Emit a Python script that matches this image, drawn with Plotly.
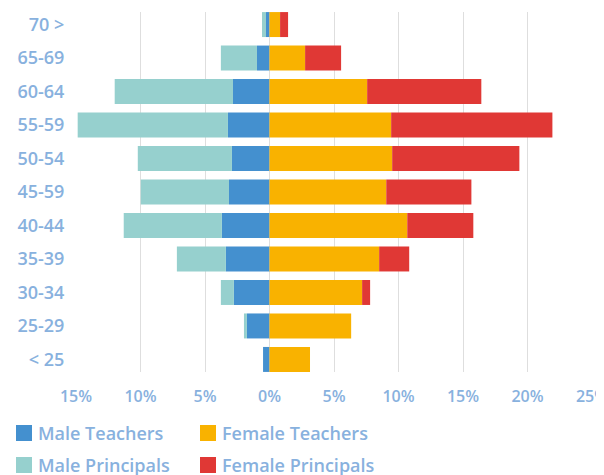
import plotly.graph_objects as go

age_groups = ["< 25", "25-29", "30-34", "35-39", "40-44", "45-59", "50-54", "55-59", "60-64", "65-69", "70 >"]
male_teachers = [0.5, 1.75, 2.76, 3.38, 3.69, 3.14, 2.91, 3.22, 2.83, 0.97, 0.27]
male_principals = [0.0, 0.23, 1.01, 3.8, 7.61, 6.84, 7.3, 11.65, 9.17, 2.8, 0.31]
female_teachers = [3.14, 6.33, 7.18, 8.5, 10.68, 9.05, 9.51, 9.43, 7.57, 2.76, 0.82]
female_principals = [0.0, 0.0, 0.62, 2.33, 5.12, 6.6, 9.86, 12.5, 8.85, 2.79, 0.62]

tick_values = [-15, -10, -5, 0, 5, 10, 15, 20, 25]
tick_labels = ["15%", "10%", "5%", "0%", "5%", "10%", "15%", "20%", "25%"]

series_names = ["Male Teachers", "Female Teachers", "Male Principals", "Female Principals"]

C_MT = "#4490cf"
C_FT = "#f9b200"
C_MP = "#96d0ce"
C_FP = "#e03835"
TXT = "#88b1de"
FONT = "Open Sans"

fig = go.Figure()

fig.add_trace(go.Bar(y=age_groups, x=[-v for v in male_teachers], orientation="h",
                     marker=dict(color=C_MT, line=dict(width=0)), name=series_names[0]))
fig.add_trace(go.Bar(y=age_groups, x=female_teachers, orientation="h",
                     marker=dict(color=C_FT, line=dict(width=0)), name=series_names[1]))
fig.add_trace(go.Bar(y=age_groups, x=[-v for v in male_principals], orientation="h",
                     marker=dict(color=C_MP, line=dict(width=0)), name=series_names[2]))
fig.add_trace(go.Bar(y=age_groups, x=female_principals, orientation="h",
                     marker=dict(color=C_FP, line=dict(width=0)), name=series_names[3]))

# the page body adds an 8px offset; figure is sized to fit the 604x475 window
W, H = 596, 467
L, R, T, B = 68, 12, 4, 103
pw, ph = W - L - R, H - T - B

# legend drawn as swatches + text (2 x 2 grid)
colors = [C_MT, C_FT, C_MP, C_FP]
col_x = [8, 192]          # swatch left edge, figure px
row_y = [425, 457]        # row centre, figure px
shapes, annotations = [], []
for i, (name, col) in enumerate(zip(series_names, colors)):
    cx = col_x[i % 2]
    cy = row_y[i // 2]
    px = lambda v: (v - L) / pw
    py = lambda v: (H - B - v) / ph
    shapes.append(dict(type="rect", xref="paper", yref="paper",
                       x0=px(cx), x1=px(cx + 16), y0=py(cy + 8), y1=py(cy - 8),
                       fillcolor=col, line=dict(width=0)))
    annotations.append(dict(text=name, xref="paper", yref="paper", x=px(cx + 20), y=py(cy),
                            xanchor="left", yanchor="middle", showarrow=False,
                            font=dict(family=FONT, size=18, color=TXT, weight=600)))

fig.update_layout(
    width=W, height=H,
    margin=dict(l=L, r=R, t=T, b=B, autoexpand=False),
    paper_bgcolor="white", plot_bgcolor="white",
    barmode="relative", bargap=0.254,
    showlegend=False,
    shapes=shapes, annotations=annotations,
    xaxis=dict(range=[-15, 25], tickvals=tick_values, ticktext=tick_labels,
               showgrid=True, gridcolor="#dedede", gridwidth=1, zeroline=False,
               ticks="outside", ticklen=10, tickcolor="rgba(0,0,0,0)", automargin=False,
               ticklabeloverflow="allow",
               tickfont=dict(family=FONT, size=16, color=TXT, weight=600), fixedrange=True),
    yaxis=dict(categoryorder="array", categoryarray=age_groups, range=[-0.375, 10.375],
               showgrid=False, zeroline=False, ticks="outside", ticklen=7, automargin=False,
               tickcolor="rgba(0,0,0,0)", tickfont=dict(family=FONT, size=18, color=TXT, weight=600),
               fixedrange=True),
)

fig.write_html("out.html")
